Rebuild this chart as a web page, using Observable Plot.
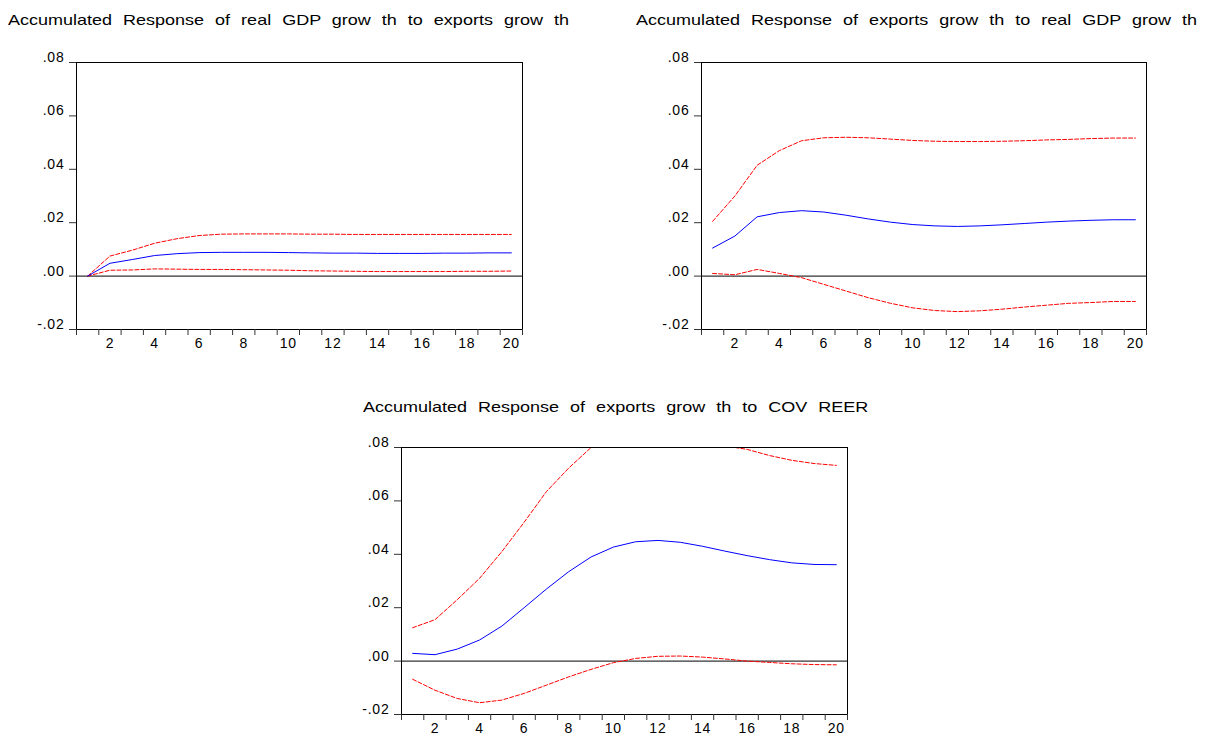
<!DOCTYPE html>
<html>
<head>
<meta charset="utf-8">
<script src="https://cdn.jsdelivr.net/npm/d3@7"></script>
<script src="https://cdn.jsdelivr.net/npm/@observablehq/plot@0.6"></script>
<style>
  html, body { margin: 0; padding: 0; background: #fff; }
  #page { position: relative; width: 1218px; height: 740px; overflow: hidden;
          font-family: "Liberation Sans", Arial, sans-serif; }
  .title { position: absolute; font-size: 15px; line-height: 17px; color: #000;
           white-space: pre; transform: scaleX(1.2); transform-origin: 0 0; word-spacing: 5px; }
  .panel { position: absolute; }
</style>
</head>
<body>
<div id="page"></div>
<script>
// Forecast horizon (periods) and axis ticks
const periods = d3.range(1, 21);
const yTicks = [-0.02, 0.00, 0.02, 0.04, 0.06, 0.08];
const xLabels = [2, 4, 6, 8, 10, 12, 14, 16, 18, 20];

// Accumulated response of real GDP growth to exports growth
const gdpResp  = [0.0000, 0.0048, 0.0062, 0.0077, 0.0084, 0.0088, 0.0089, 0.0089, 0.0089, 0.0088,
                  0.0087, 0.0086, 0.0086, 0.0085, 0.0085, 0.0085, 0.0086, 0.0086, 0.0087, 0.0087];
const gdpUpper = [0.0000, 0.0075, 0.0097, 0.0123, 0.0140, 0.0152, 0.0157, 0.0158, 0.0158, 0.0158,
                  0.0157, 0.0157, 0.0156, 0.0156, 0.0156, 0.0156, 0.0156, 0.0156, 0.0156, 0.0156];
const gdpLower = [0.0000, 0.0022, 0.0023, 0.0027, 0.0026, 0.0025, 0.0025, 0.0024, 0.0023, 0.0022,
                  0.0020, 0.0019, 0.0018, 0.0017, 0.0017, 0.0017, 0.0017, 0.0018, 0.0018, 0.0019];

// Accumulated response of exports growth to real GDP growth
const expResp  = [0.0105, 0.0150, 0.0222, 0.0238, 0.0245, 0.0240, 0.0228, 0.0214, 0.0202, 0.0193,
                  0.0188, 0.0186, 0.0188, 0.0192, 0.0197, 0.0202, 0.0206, 0.0209, 0.0211, 0.0211];
const expUpper = [0.0205, 0.0300, 0.0415, 0.0470, 0.0507, 0.0518, 0.0520, 0.0518, 0.0513, 0.0508,
                  0.0505, 0.0504, 0.0504, 0.0505, 0.0507, 0.0510, 0.0512, 0.0515, 0.0517, 0.0517];
const expLower = [0.0010, 0.0005, 0.0025, 0.0010, -0.0006, -0.0031, -0.0056, -0.0081, -0.0102, -0.0119,
                  -0.0129, -0.0133, -0.0130, -0.0124, -0.0116, -0.0109, -0.0102, -0.0099, -0.0095, -0.0095];

// Accumulated response of exports growth to COV REER
const reerResp  = [0.0029, 0.0024, 0.0045, 0.0079, 0.0131, 0.0200, 0.0270, 0.0335, 0.0390, 0.0427,
                   0.0447, 0.0452, 0.0445, 0.0430, 0.0412, 0.0395, 0.0380, 0.0368, 0.0362, 0.0361];
const reerUpper = [0.0125, 0.0155, 0.0230, 0.0310, 0.0410, 0.0520, 0.0635, 0.0723, 0.0800, 0.0845,
                   0.0870, 0.0878, 0.0865, 0.0840, 0.0806, 0.0793, 0.0770, 0.0752, 0.0740, 0.0733];
const reerLower = [-0.0068, -0.0109, -0.0140, -0.0156, -0.0146, -0.0121, -0.0090, -0.0059, -0.0031, -0.0006,
                   0.0010, 0.0018, 0.0019, 0.0015, 0.0008, 0.0000, -0.0005, -0.0010, -0.0013, -0.0014];

// ".08", ".00", "-.02" style labels with a plain hyphen for negatives
const fmtY = d => d3.format(".2f")(d).replace("\u2212", "-").replace("0.", ".");
const page = document.getElementById("page");

function addTitle(text, x, y) {
  const t = document.createElement("div");
  t.className = "title";
  t.textContent = text;
  t.style.left = x + "px";
  t.style.top = y + "px";
  page.appendChild(t);
}

// One impulse-response panel; frame gives the plotting area in page coordinates
function addPanel({left, top, width, height, frame, resp, lower, upper}) {
  const rows = periods.map((p, i) => ({p, resp: resp[i], lower: lower[i], upper: upper[i]}));
  const chart = Plot.plot({
    width, height,
    marginLeft: frame.l - left,
    marginRight: left + width - frame.r,
    marginTop: frame.t - top,
    marginBottom: top + height - frame.b,
    x: {domain: [0.5, 20.5], axis: null},
    y: {domain: [-0.02, 0.08], axis: null},
    style: {fontFamily: '"Liberation Sans", Arial, sans-serif', fontSize: "14px",
            letterSpacing: "0.8px", background: "transparent", color: "#000", overflow: "visible"},
    marks: [
      Plot.ruleY([0], {stroke: "#000", strokeWidth: 1}),
      Plot.line(rows, {x: "p", y: "upper", stroke: "#ff0000", strokeWidth: 1, strokeDasharray: "4,2", clip: true}),
      Plot.line(rows, {x: "p", y: "lower", stroke: "#ff0000", strokeWidth: 1, strokeDasharray: "4,2", clip: true}),
      Plot.line(rows, {x: "p", y: "resp", stroke: "#0000ff", strokeWidth: 1, clip: true}),
      Plot.frame({stroke: "#000", strokeWidth: 1}),
      // y tick marks, then labels sitting just above each tick
      Plot.axisY({ticks: yTicks, tickSize: 7, tickFormat: () => "", stroke: "#333", label: null}),
      Plot.axisY({ticks: yTicks, tickSize: 0, tickPadding: 12, dy: -5, tickFormat: fmtY, label: null}),
      // x ticks on period boundaries, labels centred on even periods
      Plot.axisX({ticks: d3.range(0.5, 21, 1), tickSize: 6, tickFormat: () => "", stroke: "#333", label: null}),
      Plot.axisX({ticks: xLabels, tickSize: 0, tickPadding: 9, label: null})
    ]
  });
  chart.classList.add("panel");
  chart.style.left = left + "px";
  chart.style.top = top + "px";
  page.appendChild(chart);
}

addTitle("Accumulated Response of real GDP grow th to exports grow th", 8, 11);
addTitle("Accumulated Response of exports grow th to real GDP grow th", 636, 11);
addTitle("Accumulated Response of exports grow th to COV REER", 363, 398);

addPanel({left: 0, top: 0, width: 570, height: 360,
          frame: {l: 76, r: 522, t: 62, b: 329},
          resp: gdpResp, lower: gdpLower, upper: gdpUpper});
addPanel({left: 620, top: 0, width: 598, height: 360,
          frame: {l: 701, r: 1146, t: 62, b: 329},
          resp: expResp, lower: expLower, upper: expUpper});
addPanel({left: 320, top: 385, width: 560, height: 355,
          frame: {l: 401, r: 847, t: 447, b: 714},
          resp: reerResp, lower: reerLower, upper: reerUpper});
</script>
</body>
</html>
